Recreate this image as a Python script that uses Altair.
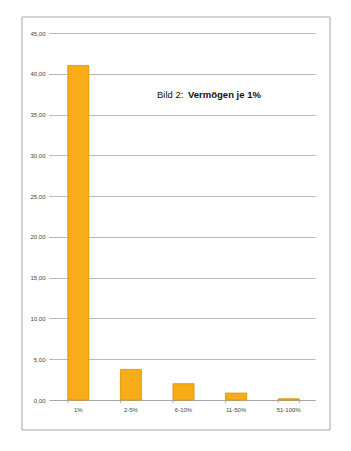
import altair as alt
import pandas as pd

categories = ["1%", "2-5%", "6-10%", "11-50%", "51-100%"]
values = [41.0, 3.75, 2.0, 0.85, 0.15]
y_ticks = [0, 5, 10, 15, 20, 25, 30, 35, 40, 45]

df = pd.DataFrame({"cat": categories, "val": values})

W, H = 263, 367

x_enc = alt.X("cat:N", sort=categories,
              scale=alt.Scale(paddingInner=0.6, paddingOuter=0.3),
              axis=alt.Axis(title=None, labelAngle=0, labelFontSize=6, labelColor="#444444",
                            labelFont="Liberation Sans", ticks=False, domainColor="#A6A6A6",
                            labelPadding=6, grid=False))
y_enc = alt.Y("val:Q", scale=alt.Scale(domain=[0, 45]),
              axis=alt.Axis(title=None, values=y_ticks, labelFontSize=6, labelColor="#444444",
                            labelFont="Liberation Sans",
                            labelExpr="replace(format(datum.value, '.2f'), '.', ',')",
                            gridColor="#B8B8B8", gridWidth=1, domain=False,
                            tickColor="#A6A6A6", tickSize=3, labelPadding=4))

bars = alt.Chart(df).mark_bar(color="#F8AC17", stroke="#DE8E00", strokeWidth=0.8).encode(
    x=x_enc, y=y_enc)

ticks = alt.Chart(df).mark_rule(color="#A6A6A6").encode(
    x=alt.X("cat:N", sort=categories, bandPosition=0),
    y=alt.value(H), y2=alt.value(H + 3))
last_tick = alt.Chart(df.iloc[[-1]]).mark_rule(color="#A6A6A6").encode(
    x=alt.X("cat:N", sort=categories, bandPosition=1),
    y=alt.value(H), y2=alt.value(H + 3))

frame = alt.Chart(df.iloc[[0]]).mark_rect(fill=None, stroke="#A6A6A6", strokeWidth=1, clip=False).encode(
    x=alt.value(-30), x2=alt.value(278), y=alt.value(-16), y2=alt.value(398 - 33 + 32))

t1 = alt.Chart(df.iloc[[0]]).mark_text(text="Bild 2:", align="left", baseline="middle",
                                       fontSize=9.5, font="Liberation Sans", color="#111111").encode(
    x=alt.value(105), y=alt.value(62))
t2 = alt.Chart(df.iloc[[0]]).mark_text(text="Vermögen je 1%", align="left", baseline="middle",
                                       fontSize=9.5, fontWeight="bold", font="Liberation Sans",
                                       color="#111111").encode(
    x=alt.value(136), y=alt.value(62))

chart = alt.layer(frame, bars, ticks, last_tick, t1, t2).properties(
    width=W, height=H,
    autosize=alt.AutoSizeParams(type="none"),
    padding={"left": 52, "top": 33, "right": 36, "bottom": 51},
    background="white"
).configure_view(stroke=None)

chart.save("out.html", embed_options={"renderer": "svg", "actions": False})
